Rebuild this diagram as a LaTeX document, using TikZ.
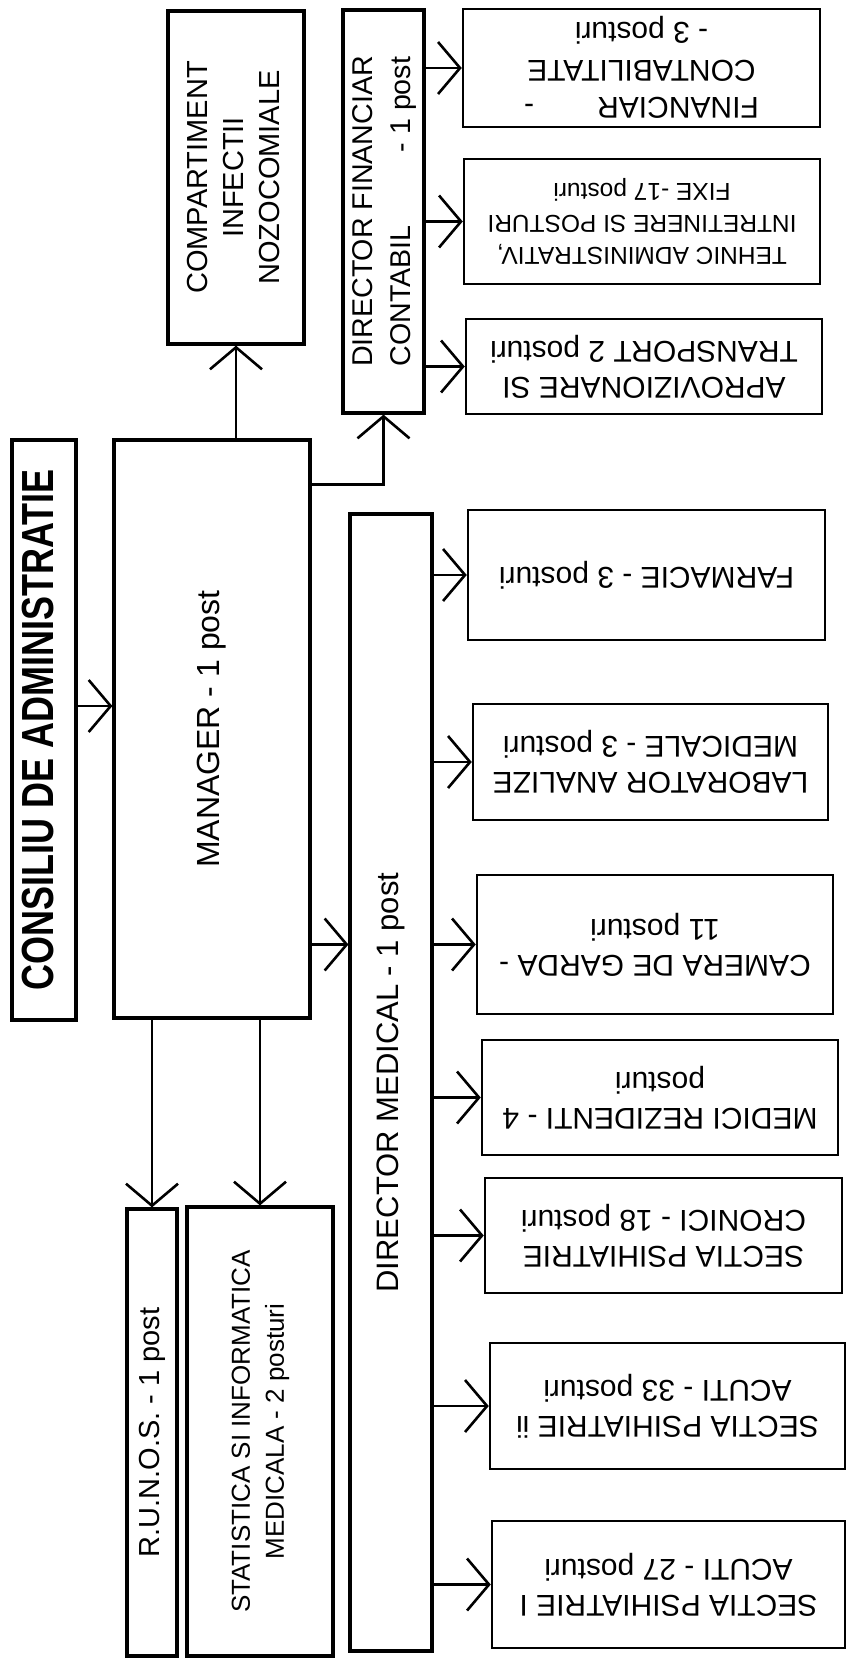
\documentclass[tikz,border=0pt]{standalone}
\usepackage{fontspec}
\setmainfont{Liberation Sans}
\newfontfamily\narrowsans{Liberation Sans}[FakeStretch=0.8]
\usetikzlibrary{arrows.meta}

\newcommand{\uplabel}[1]{\rotatebox{90}{\begin{tabular}{@{}c@{}}#1\end{tabular}}}
\newcommand{\fliplabel}[1]{\rotatebox{180}{\begin{tabular}{@{}c@{}}#1\end{tabular}}}

\tikzset{
	office/.style={draw, line width=3.2pt, inner sep=0pt, font=\fontsize{29}{36}\selectfont},
	dept/.style={draw, line width=2.5pt, inner sep=0pt, font=\fontsize{30}{36}\selectfont},
	feed/.style={line width=2.3pt, -{Straight Barb[length=22pt,width=52pt,line width=2.6pt]}}
}

\begin{document}
\begin{tikzpicture}[x=1pt,y=-1pt]
	\useasboundingbox (0,0) rectangle (849,1672);

	\node[office, font=\narrowsans\bfseries\fontsize{45}{50}\selectfont, minimum width=64pt, minimum height=580pt] (consiliu) at (44,730) {\uplabel{CONSILIU DE ADMINISTRATIE}};
	\node[office, font=\fontsize{32}{38}\selectfont, minimum width=196pt, minimum height=578pt] (manager) at (212,729) {\uplabel{MANAGER - 1 post}};
	\node[office, minimum width=136pt, minimum height=333pt] (infectii) at (236,177.5) {\uplabel{COMPARTIMENT\\INFECTII\\NOZOCOMIALE}};
	\node[office, font=\fontsize{28.6}{38}\selectfont, minimum width=81pt, minimum height=403pt] (dirfin) at (383.5,211.5) {\uplabel{DIRECTOR FINANCIAR\\CONTABIL\hspace{2.55em}- 1 post}};
	\node[office, font=\fontsize{31}{36}\selectfont, minimum width=82pt, minimum height=1137pt] (dirmed) at (391,1082.5) {\uplabel{DIRECTOR MEDICAL - 1 post}};
	\node[office, minimum width=50pt, minimum height=447pt] (runos) at (152,1432.5) {\uplabel{R.U.N.O.S. - 1 post}};
	\node[office, font=\fontsize{26}{34}\selectfont, minimum width=146pt, minimum height=449pt] (statistica) at (260,1431.5) {\uplabel{STATISTICA SI INFORMATICA\\MEDICALA - 2 posturi}};

	\node[dept, font=\fontsize{30}{37.5}\selectfont, minimum width=357pt, minimum height=118pt] (financiar) at (641.5,68) {\fliplabel{FINANCIAR\hspace{2.1em}-\\CONTABILITATE\\- 3 posturi}};
	\node[dept, font=\fontsize{24.5}{32}\selectfont, minimum width=356pt, minimum height=125pt] (tehnic) at (642,221.5) {\fliplabel{TEHNIC ADMINISTRATIV,\\INTRETINERE SI POSTURI\\FIXE -17 posturi}};
	\node[dept, minimum width=356pt, minimum height=95pt] (aprov) at (644,366.5) {\fliplabel{APROVIZIONARE SI\\TRANSPORT 2 posturi}};
	\node[dept, minimum width=357pt, minimum height=130pt] (farmacie) at (646.5,575) {\fliplabel{FARMACIE - 3 posturi}};
	\node[dept, minimum width=355pt, minimum height=116pt] (laborator) at (650.5,762) {\fliplabel{LABORATOR ANALIZE\\MEDICALE - 3 posturi}};
	\node[dept, minimum width=356pt, minimum height=139pt] (camera) at (655,944.5) {\fliplabel{CAMERA DE GARDA -\\11 posturi}};
	\node[dept, minimum width=356pt, minimum height=115pt] (medici) at (660,1097.5) {\fliplabel{MEDICI REZIDENTI - 4\\posturi}};
	\node[dept, minimum width=357pt, minimum height=115pt] (cronici) at (663.5,1235.5) {\fliplabel{SECTIA PSIHIATRIE\\CRONICI - 18 posturi}};
	\node[dept, minimum width=355pt, minimum height=126pt] (acutidoi) at (667.5,1406) {\fliplabel{SECTIA PSIHIATRIE ii\\ACUTI - 33 posturi}};
	\node[dept, minimum width=353pt, minimum height=127pt] (acutiunu) at (668.5,1584.5) {\fliplabel{SECTIA PSIHIATRIE I\\ACUTI - 27 posturi}};

	\draw[feed] ([yshift=24pt]consiliu.east) -- ([yshift=24pt]consiliu.east -| manager.west);
	\draw[feed] (manager.north -| infectii.south) -- (infectii.south);
	\draw[feed] ([yshift=-46pt]manager.north east) -| (dirfin.south);
	\draw[feed] (manager.east |- camera.west) -- (dirmed.west |- camera.west);
	\draw[feed] (manager.south -| runos.north) -- (runos.north);
	\draw[feed] (manager.south -| statistica.north) -- (statistica.north);

	\draw[feed] (dirfin.east |- financiar.west) -- (financiar.west);
	\draw[feed] (dirfin.east |- tehnic.west) -- (tehnic.west);
	\draw[feed] (dirfin.east |- aprov.west) -- (aprov.west);

	\draw[feed] (dirmed.east |- farmacie.west) -- (farmacie.west);
	\draw[feed] (dirmed.east |- laborator.west) -- (laborator.west);
	\draw[feed] (dirmed.east |- camera.west) -- (camera.west);
	\draw[feed] (dirmed.east |- medici.west) -- (medici.west);
	\draw[feed] (dirmed.east |- cronici.west) -- (cronici.west);
	\draw[feed] (dirmed.east |- acutidoi.west) -- (acutidoi.west);
	\draw[feed] (dirmed.east |- acutiunu.west) -- (acutiunu.west);
\end{tikzpicture}
\end{document}
